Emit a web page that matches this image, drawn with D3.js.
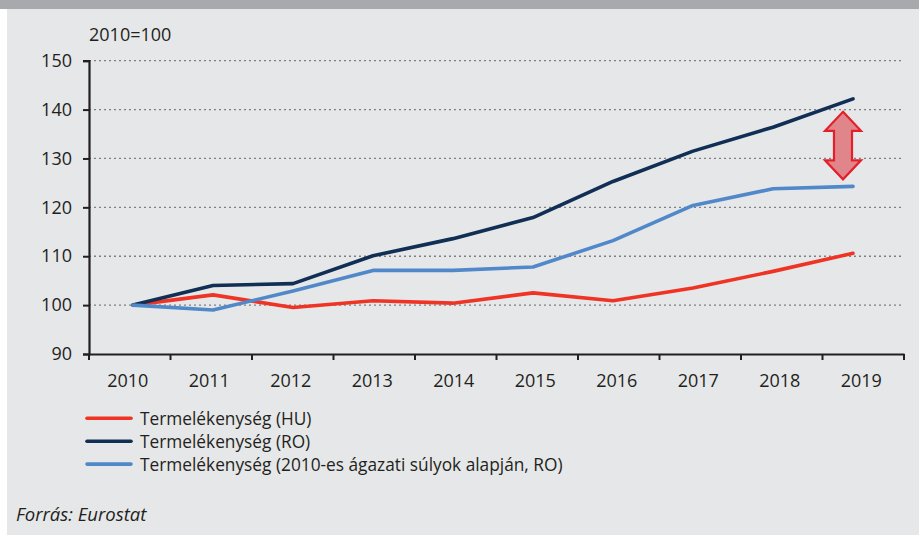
<!DOCTYPE html>
<html>
<head>
<meta charset="utf-8">
<script src="https://cdn.jsdelivr.net/npm/d3@7"></script>
<style>
  body { margin: 0; background: #fff; }
  svg { display: block; }
  text { font-family: "Open Sans", sans-serif; fill: #231f20; }
</style>
</head>
<body>
<div id="chart"></div>
<script>
var width = 919;
var height = 537;

// data
var years = ["2010", "2011", "2012", "2013", "2014", "2015", "2016", "2017", "2018", "2019"];
var hu = [100, 102.1, 99.5, 100.9, 100.4, 102.5, 100.9, 103.5, 106.9, 110.6];
var ro = [100, 104.0, 104.4, 110.1, 113.6, 117.9, 125.3, 131.5, 136.4, 142.2];
var roWeighted = [100, 99.0, 102.9, 107.1, 107.1, 107.8, 113.2, 120.4, 123.8, 124.3];
var yTicks = [90, 100, 110, 120, 130, 140, 150];
var seriesNames = ["Termelékenység (HU)", "Termelékenység (RO)", "Termelékenység (2010-es ágazati súlyok alapján, RO)"];
var seriesColors = ["#ef3425", "#112f55", "#5188c9"];
var gapArrow = [124.3, 142.2]; // arrow between the two RO lines in 2019

var series = [hu, ro, roWeighted];

var svg = d3.select("#chart")
	.append("svg")
	.attr("width", width)
	.attr("height", height);

// panel + top bar
svg.append("rect").attr("x", 7).attr("y", 0).attr("width", width - 7).attr("height", 535).attr("fill", "#e6e7e8");
svg.append("rect").attr("x", 0).attr("y", 0).attr("width", width).attr("height", 9).attr("fill", "#a7a9ac");

var x = d3.scaleBand().domain(years).range([89, 904]);
var xp = d3.scalePoint().domain(years).range([133, 853]);
var y = d3.scaleLinear().domain([90, 150]).range([354, 60.7]);

// dotted gridlines
svg.selectAll(".grid")
	.data(yTicks.filter(d => d > 90))
	.enter()
	.append("line")
	.attr("x1", 89).attr("x2", 904)
	.attr("y1", d => y(d)).attr("y2", d => y(d))
	.attr("stroke", "#7f7f7f")
	.attr("stroke-width", 1.3)
	.attr("stroke-dasharray", "2,3");

// y axis
var yAxis = svg.append("g")
	.attr("transform", "translate(89,0)")
	.call(d3.axisLeft(y).tickValues(yTicks).tickSize(6).tickPadding(11));
yAxis.select(".domain").attr("stroke", "#231f20").attr("stroke-width", 2.2);
yAxis.selectAll(".tick line").attr("stroke", "#231f20").attr("stroke-width", 2);
yAxis.selectAll("text").style("font-size", "18px").attr("fill", "#231f20");

// x axis
var xAxis = svg.append("g")
	.attr("transform", "translate(0,354)")
	.call(d3.axisBottom(x).tickSize(0).tickPadding(20));
xAxis.select(".domain").attr("stroke", "#231f20").attr("stroke-width", 2.2);
xAxis.selectAll("text").style("font-size", "18px").attr("fill", "#231f20")
	.attr("dx", -2);
// boundary ticks between categories
svg.selectAll(".xtick")
	.data(years.slice(1).concat(["end"]))
	.enter()
	.append("line")
	.attr("x1", d => d == "end" ? 904 : x(d))
	.attr("x2", d => d == "end" ? 904 : x(d))
	.attr("y1", 354).attr("y2", 360)
	.attr("stroke", "#231f20").attr("stroke-width", 2);
svg.append("line").attr("x1", 89).attr("x2", 89).attr("y1", 354).attr("y2", 360)
	.attr("stroke", "#231f20").attr("stroke-width", 2);

svg.append("text").attr("x", 89).attr("y", 41).style("font-size", "18px").text("2010=100");

// lines
var line = d3.line()
	.x((d, i) => xp(years[i]))
	.y(d => y(d));

svg.selectAll(".series")
	.data(series)
	.enter()
	.append("path")
	.attr("d", d => line(d))
	.attr("fill", "none")
	.attr("stroke", (d, i) => seriesColors[i])
	.attr("stroke-width", 3.6)
	.attr("stroke-linejoin", "round")
	.attr("stroke-linecap", "round");

// double arrow
var ax = xp("2019") - 10;
var yTop = y(gapArrow[1]) + 13;
var yBot = y(gapArrow[0]) - 7;
var hw = 18, sw = 9, hh = 19;
var pts = [
	[ax, yTop], [ax + hw, yTop + hh], [ax + sw, yTop + hh], [ax + sw, yBot - hh], [ax + hw, yBot - hh],
	[ax, yBot], [ax - hw, yBot - hh], [ax - sw, yBot - hh], [ax - sw, yTop + hh], [ax - hw, yTop + hh]
];
svg.append("path")
	.attr("d", d3.line()(pts) + "Z")
	.attr("fill", "#e0868b")
	.attr("stroke", "#e3202a")
	.attr("stroke-width", 2.2)
	.attr("stroke-linejoin", "miter");

// legend
var legend = svg.selectAll(".legend")
	.data(seriesNames)
	.enter()
	.append("g")
	.attr("transform", (d, i) => "translate(87," + (418.3 + i * 22.9) + ")");
legend.append("line")
	.attr("x1", 0).attr("x2", 44)
	.attr("stroke", (d, i) => seriesColors[i])
	.attr("stroke-width", 3.6)
	.attr("stroke-linecap", "round");
legend.append("text")
	.attr("x", 53).attr("y", 6.5)
	.style("font-size", "17.3px")
	.text(d => d);

svg.append("text")
	.attr("x", 16).attr("y", 521)
	.style("font-size", "18.5px")
	.style("font-style", "italic")
	.text("Forrás: Eurostat");
</script>
</body>
</html>
